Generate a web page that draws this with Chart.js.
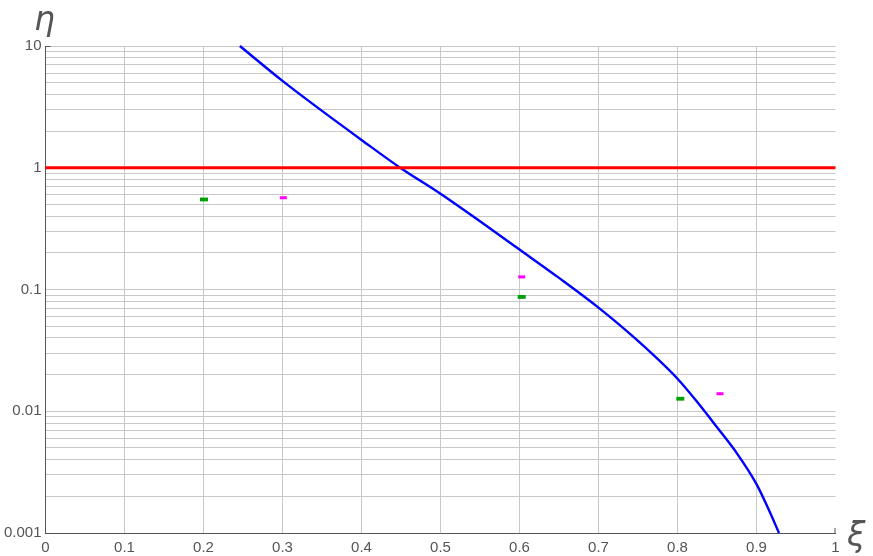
<!DOCTYPE html>
<html>
<head>
<meta charset="utf-8">
<script src="https://cdn.jsdelivr.net/npm/chart.js@4"></script>
<style>
  html, body { margin: 0; padding: 0; background: #fff; }
  #wrap { width: 873px; height: 556px; position: relative; }
</style>
</head>
<body>
<div id="wrap"><canvas id="mychart"></canvas></div>
<script>
// blue curve
const curveXi  = [0.246, 0.3, 0.35, 0.4, 0.449, 0.5, 0.55, 0.6, 0.65, 0.7, 0.75, 0.8, 0.825, 0.85, 0.875, 0.9, 0.915, 0.9285];
const curveEta = [10, 5.17, 2.93, 1.693, 1.0, 0.611, 0.363, 0.213, 0.1246, 0.0710, 0.0378, 0.0185, 0.0119, 0.00739, 0.00453, 0.00252, 0.00158, 0.001];

// red reference line
const refXi  = [0, 1];
const refEta = [1, 1];

// measured points
const greenXi  = [0.2006, 0.6028, 0.8036];
const greenEta = [0.549, 0.0869, 0.01267];
const magentaXi  = [0.301, 0.6028, 0.8538];
const magentaEta = [0.567, 0.127, 0.01393];

const xTicks = [0, 0.1, 0.2, 0.3, 0.4, 0.5, 0.6, 0.7, 0.8, 0.9, 1];
const yMajor = [0.001, 0.01, 0.1, 1, 10];

function pts(xs, ys) {
    return xs.map((x, i) => ({ x: x, y: ys[i] }));
}

// every 1..9 x 10^k tick for the log grid
let yTicks = [];
for (let k = -3; k <= 0; k++) {
    for (let m = 1; m <= 9; m++) yTicks.push(+(m * Math.pow(10, k)).toPrecision(3));
}
yTicks.push(10);

const labelFont = { family: 'Liberation Sans', size: 15 };

const axisNames = {
    id: 'axisNames',
    afterDraw(chart) {
        const c = chart.ctx;
        const a = chart.chartArea;
        c.save();
        c.fillStyle = '#555';
        c.font = 'italic 33px "DejaVu Sans"';
        c.textAlign = 'left';
        c.textBaseline = 'alphabetic';
        c.fillText('η', 34, 30);
        c.fillText('ξ', 847, 546);
        // small inward ticks at the ends
        c.strokeStyle = '#555';
        c.lineWidth = 1;
        c.beginPath();
        c.moveTo(a.right - 0.5, a.bottom);
        c.lineTo(a.right - 0.5, a.bottom - 5);
        c.moveTo(a.left, a.top + 0.5);
        c.lineTo(a.left + 5, a.top + 0.5);
        c.stroke();
        c.restore();
    }
};

const ctx = document.querySelector('#mychart');

new Chart(ctx, {
    type: 'scatter',
    data: {
        datasets: [
            {
                label: 'ref',
                data: pts(refXi, refEta),
                showLine: true,
                borderColor: '#ff0000',
                borderWidth: 2.8,
                pointRadius: 0
            },
            {
                label: 'curve',
                data: pts(curveXi, curveEta),
                showLine: true,
                borderColor: '#0000ff',
                borderWidth: 2.4,
                pointRadius: 0,
                cubicInterpolationMode: 'monotone'
            },
            {
                label: 'green',
                data: pts(greenXi, greenEta),
                pointStyle: 'line',
                pointRadius: 4,
                pointHoverRadius: 4,
                borderWidth: 3.8,
                borderColor: '#00a000',
                backgroundColor: '#00a000'
            },
            {
                label: 'magenta',
                data: pts(magentaXi, magentaEta),
                pointStyle: 'line',
                pointRadius: 3.5,
                pointHoverRadius: 3.5,
                borderWidth: 3,
                borderColor: '#ff00ff',
                backgroundColor: '#ff00ff'
            }
        ]
    },
    options: {
        responsive: true,
        maintainAspectRatio: false,
        animation: false,
        clip: false,
        layout: { padding: { top: 46, right: 37.5, bottom: 0, left: 0 } },
        plugins: {
            legend: { display: false },
            tooltip: { enabled: false }
        },
        scales: {
            x: {
                type: 'linear',
                min: 0,
                max: 1,
                afterBuildTicks: axis => { axis.ticks = xTicks.map(v => ({ value: v })); },
                afterFit: scale => { scale.height = 23; },
                border: { color: '#555', width: 1 },
                grid: {
                    drawTicks: false,
                    color: c => (c.tick && c.tick.value === 1) ? 'rgba(0,0,0,0)' : '#c8c8c8',
                    lineWidth: 1
                },
                ticks: {
                    color: '#555',
                    font: labelFont,
                    padding: 6,
                    maxRotation: 0,
                    autoSkip: false,
                    callback: v => String(v)
                }
            },
            y: {
                type: 'logarithmic',
                min: 0.001,
                max: 10,
                afterBuildTicks: axis => { axis.ticks = yTicks.map(v => ({ value: v })); },
                afterFit: scale => { scale.width = 45.5; },
                border: { color: '#555', width: 1 },
                grid: {
                    drawTicks: false,
                    color: '#c8c8c8',
                    lineWidth: 1
                },
                ticks: {
                    color: '#555',
                    font: labelFont,
                    padding: 4,
                    autoSkip: false,
                    callback: v => yMajor.includes(v) ? String(v) : ''
                }
            }
        }
    },
    plugins: [axisNames]
});
</script>
</body>
</html>
